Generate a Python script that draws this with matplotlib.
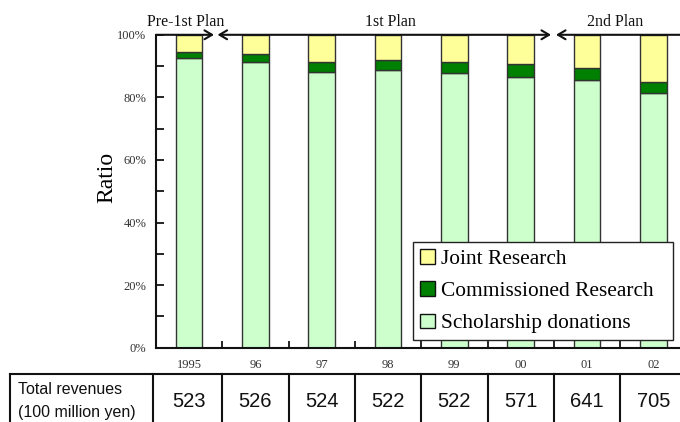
import matplotlib
matplotlib.use("Agg")
import matplotlib.pyplot as plt
from matplotlib.transforms import blended_transform_factory
from matplotlib.patches import Patch

# Data
years = ["1995", "96", "97", "98", "99", "00", "01", "02"]
scholarship = [92.6, 91.4, 88.2, 88.8, 87.7, 86.4, 85.5, 81.3]
commissioned = [1.8, 2.5, 3.0, 3.3, 3.5, 4.3, 4.0, 3.6]
joint = [5.6, 6.1, 8.8, 7.9, 8.8, 9.3, 10.5, 15.1]
revenues = ["523", "526", "524", "522", "522", "571", "641", "705"]
plans = ["Pre-1st Plan", "1st Plan", "2nd Plan"]
yticks = [0, 20, 40, 60, 80, 100]

c_joint = "#FFFF99"
c_comm = "#008000"
c_schol = "#CCFFCC"
edge = "#333333"

serif = ["Liberation Serif", "DejaVu Serif"]
sans = ["Liberation Sans", "DejaVu Sans"]

W, H = 680, 422
fig = plt.figure(figsize=(W / 100, H / 100), dpi=100)
ax = fig.add_axes([156 / W, (H - 347.7) / H, (W - 156) / W, (347.7 - 34.8) / H])

x = list(range(len(years)))
bw = 0.4
bottom2 = [s + c for s, c in zip(scholarship, commissioned)]
ax.bar(x, scholarship, bw, color=c_schol, edgecolor=edge, linewidth=1.0, zorder=2)
ax.bar(x, commissioned, bw, bottom=scholarship, color=c_comm, edgecolor=edge, linewidth=1.0, zorder=2)
ax.bar(x, joint, bw, bottom=bottom2, color=c_joint, edgecolor=edge, linewidth=1.0, zorder=2)

ax.set_xlim(-0.5, -0.5 + (W - 156) / 66.3)
ax.set_ylim(0, 100)

for s in ["top", "right"]:
    ax.spines[s].set_visible(False)
for s in ["left", "bottom"]:
    ax.spines[s].set_linewidth(1.5)
    ax.spines[s].set_color("#111111")

ax.set_yticks(yticks)
ax.set_yticklabels([f"{v}%" for v in yticks], family=serif, fontsize=9, color="#333333")
ax.set_yticks(list(range(10, 100, 20)), minor=True)
ax.tick_params(axis="y", which="both", direction="in", length=5.5, width=1.2, pad=7)

ax.set_xticks(x)
ax.set_xticklabels(years, family=serif, fontsize=9, color="#333333")
ax.set_xticks([i + 0.5 for i in x[:-1]], minor=True)
ax.tick_params(axis="x", which="major", length=0, pad=8)
ax.tick_params(axis="x", which="minor", direction="in", length=5, width=1.2)

ax.set_ylabel("Ratio", family=serif, fontsize=17)
ax.yaxis.set_label_coords(-0.0744, 0.544)

# Plan periods along the 100% line
xr = ax.get_xlim()[1]
akw = dict(lw=1.5, color="#111111", shrinkA=0, shrinkB=0, mutation_scale=20)
ax.annotate("", xy=(0.375, 100), xytext=(-0.5, 100), annotation_clip=False,
            arrowprops=dict(arrowstyle="->,head_length=0.27,head_width=0.16", **akw), zorder=5)
ax.annotate("", xy=(5.458, 100), xytext=(0.428, 100), annotation_clip=False,
            arrowprops=dict(arrowstyle="<->,head_length=0.27,head_width=0.16", **akw), zorder=5)
ax.annotate("", xy=(5.533, 100), xytext=(xr + 0.2, 100), annotation_clip=False,
            arrowprops=dict(arrowstyle="->,head_length=0.27,head_width=0.16", **akw), zorder=5)

trp = blended_transform_factory(ax.transData, fig.transFigure)
for px, label in zip([-0.054, 3.04, 6.43], plans):
    fig.text(px, 1 - 21.5 / H, label, transform=trp, ha="center", va="center",
             family=serif, fontsize=11.5, color="#111111")

handles = [Patch(facecolor=c_joint, edgecolor="#111111", linewidth=1.0),
           Patch(facecolor=c_comm, edgecolor="#111111", linewidth=1.0),
           Patch(facecolor=c_schol, edgecolor="#111111", linewidth=1.0)]
leg = ax.legend(handles, ["Joint Research", "Commissioned Research", "Scholarship donations"],
                loc="upper left",
                bbox_to_anchor=(413 / W, 1 - 342 / H, (673 - 413) / W, 100 / H),
                bbox_transform=fig.transFigure, borderaxespad=0, mode="expand",
                prop={"family": serif, "size": 15.4}, frameon=True, fancybox=False,
                framealpha=1.0, facecolor="white",
                handlelength=0.68, handleheight=0.68, handletextpad=0.3,
                labelspacing=0.58, borderpad=0.33)
leg.get_frame().set_edgecolor("#222222")
leg.get_frame().set_linewidth(1.0)
leg.set_zorder(10)

# Revenue table under the axis
ty = 1 - 374 / H
fig.add_artist(plt.Line2D([10 / W, 1.0], [ty, ty], transform=fig.transFigure,
                          color="#111111", lw=1.5))
for xf in [10 / W, 153.3 / W]:
    fig.add_artist(plt.Line2D([xf, xf], [0, ty], transform=fig.transFigure,
                              color="#111111", lw=1.5))
for i in x[:-1]:
    fig.add_artist(plt.Line2D([i + 0.5, i + 0.5], [0, ty], transform=trp,
                              color="#111111", lw=1.5))
for i, v in zip(x, revenues):
    fig.text(i, 1 - 401.5 / H, v, transform=trp, ha="center", va="center",
             family=sans, fontsize=14.5, color="#111111")
fig.text(18 / W, 1 - 389 / H, "Total revenues", ha="left", va="center",
         family=sans, fontsize=11.5, color="#111111")
fig.text(18 / W, 1 - 413 / H, "(100 million yen)", ha="left", va="center",
         family=sans, fontsize=11.5, color="#111111")

fig.savefig("out.png", dpi=100)
